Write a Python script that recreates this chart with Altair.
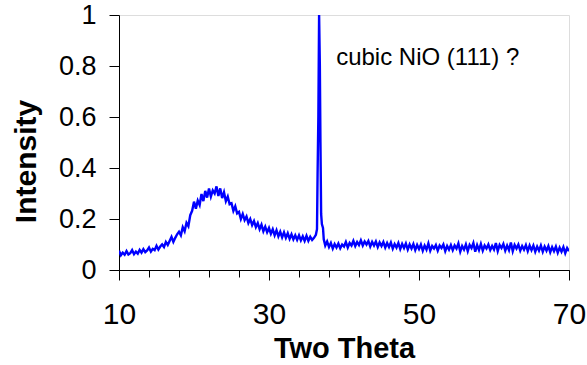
import altair as alt
import pandas as pd

# Segment before the peak: 2-theta 10.00 .. 36.25, step 0.25
seg_a_start = 10.0
seg_a = [
    0.076, 0.058, 0.068, 0.060,
    0.074, 0.061, 0.066, 0.078,
    0.062, 0.072, 0.064, 0.079,
    0.068, 0.082, 0.070, 0.077,
    0.088, 0.072, 0.083, 0.078,
    0.095, 0.080, 0.092, 0.100,
    0.090, 0.110, 0.098, 0.114,
    0.130, 0.110, 0.126, 0.140,
    0.150, 0.136, 0.168, 0.152,
    0.185, 0.172, 0.215, 0.232,
    0.268, 0.240, 0.272, 0.255,
    0.298, 0.270, 0.310, 0.284,
    0.320, 0.288, 0.312, 0.300,
    0.328, 0.290, 0.320, 0.282,
    0.305, 0.270, 0.288, 0.258,
    0.262, 0.232, 0.250, 0.222,
    0.228, 0.200, 0.220, 0.196,
    0.210, 0.184, 0.200, 0.176,
    0.192, 0.168, 0.184, 0.160,
    0.178, 0.152, 0.170, 0.148,
    0.165, 0.142, 0.160, 0.136,
    0.156, 0.132, 0.150, 0.128,
    0.148, 0.126, 0.144, 0.122,
    0.140, 0.120, 0.136, 0.118,
    0.136, 0.116, 0.132, 0.114,
    0.134, 0.114, 0.130, 0.118,
    0.126, 0.138,
]

# The sharp peak
peak_x = [36.40, 36.48, 36.58, 36.68, 36.78, 36.86, 36.95, 37.05, 37.20, 37.30]
peak_y = [0.160, 0.380, 0.600, 1.000, 0.800, 0.500, 0.220, 0.180, 0.165, 0.120]

# Segment after the peak: 2-theta 37.50 .. 70.00, step 0.25
seg_b_start = 37.5
seg_b = [
    0.096, 0.112,
    0.090, 0.106, 0.084, 0.102,
    0.088, 0.104, 0.085, 0.100,
    0.092, 0.110, 0.088, 0.106,
    0.096, 0.114, 0.094, 0.110,
    0.098, 0.116, 0.096, 0.112,
    0.100, 0.114, 0.092, 0.110,
    0.096, 0.112, 0.090, 0.108,
    0.094, 0.110, 0.088, 0.106,
    0.090, 0.108, 0.084, 0.102,
    0.088, 0.106, 0.082, 0.102,
    0.086, 0.104, 0.080, 0.100,
    0.084, 0.102, 0.078, 0.098,
    0.082, 0.100, 0.076, 0.096,
    0.080, 0.104, 0.076, 0.094,
    0.084, 0.098, 0.076, 0.096,
    0.086, 0.100, 0.074, 0.094,
    0.080, 0.098, 0.078, 0.096,
    0.084, 0.104, 0.072, 0.094,
    0.080, 0.100, 0.074, 0.098,
    0.086, 0.106, 0.072, 0.098,
    0.078, 0.102, 0.076, 0.096,
    0.084, 0.100, 0.078, 0.094,
    0.080, 0.106, 0.074, 0.098,
    0.086, 0.102, 0.076, 0.096,
    0.078, 0.108, 0.074, 0.098,
    0.084, 0.100, 0.076, 0.094,
    0.080, 0.098, 0.074, 0.096,
    0.078, 0.096, 0.072, 0.092,
    0.076, 0.096, 0.072, 0.092,
    0.076, 0.094, 0.070, 0.090,
    0.074, 0.092, 0.068, 0.088,
    0.072, 0.090, 0.066, 0.086,
    0.074,
]

x_major = [10, 30, 50, 70]
x_minor = [10, 14, 18, 22, 26, 30, 34, 38, 42, 46, 50, 54, 58, 62, 66, 70]
y_ticks = [0, 0.2, 0.4, 0.6, 0.8, 1.0]

annot_text = ["cubic NiO (111) ?"]
annot_x = [38.95]
annot_y = [0.805]

xs = [seg_a_start + 0.25 * i for i in range(len(seg_a))] + peak_x + \
     [seg_b_start + 0.25 * i for i in range(len(seg_b))]
ys = seg_a + peak_y + seg_b
df = pd.DataFrame({"theta": xs, "intensity": ys, "order": range(len(xs))})
ann = pd.DataFrame({"theta": annot_x, "intensity": annot_y, "t": annot_text})

xscale = alt.Scale(domain=[10, 70], nice=False, zero=False)
yscale = alt.Scale(domain=[0, 1], nice=False)

y_axis = alt.Axis(values=y_ticks, grid=False, format="~g", labelOverlap=False,
                  labelFontSize=27, labelFont="Liberation Sans", labelColor="black",
                  labelPadding=13, labelFlush=False,
                  tickSize=10, tickColor="black", domainColor="black",
                  titleFontSize=30, titleFont="Liberation Sans", titleFontWeight="bold",
                  titleColor="black", titleBaseline="alphabetic", titleX=-84,
                  titleY=146)

line = alt.Chart(df).mark_line(color="#0000FF", strokeWidth=2.4, clip=True).encode(
    x=alt.X("theta:Q", scale=xscale, title="Two Theta",
            axis=alt.Axis(values=x_major, grid=False, labelOverlap=False, orient="bottom",
                          labelFontSize=30, labelFont="Liberation Sans", labelColor="black",
                          labelBaseline="alphabetic", labelPadding=43, labelFlush=False,
                          tickSize=10, tickColor="black", domainColor="black",
                          titleFontSize=29, titleFont="Liberation Sans", titleFontWeight="bold",
                          titleColor="black", titleBaseline="alphabetic", titleY=87)),
    y=alt.Y("intensity:Q", scale=yscale, title="Intensity", axis=y_axis),
    order="order:Q",
)

text = alt.Chart(ann).mark_text(align="left", baseline="alphabetic", fontSize=24,
                                font="Liberation Sans", color="black").encode(
    x=alt.X("theta:Q", scale=xscale,
            axis=alt.Axis(values=x_minor, orient="bottom", labels=False, domain=False,
                          grid=False, title=None, tickSize=7, tickColor="black")),
    y=alt.Y("intensity:Q", scale=yscale, title="Intensity", axis=y_axis),
    text="t:N")

chart = (line + text).resolve_axis(x="independent").properties(
    width=450, height=255,
    autosize=alt.AutoSizeParams(type="none"),
    padding={"left": 119, "top": 15, "right": 18, "bottom": 95},
).configure_view(stroke="#a0a0a0", strokeWidth=1.5).configure(background="white")

chart.save("out.html", embed_options={"renderer": "svg", "actions": False})
